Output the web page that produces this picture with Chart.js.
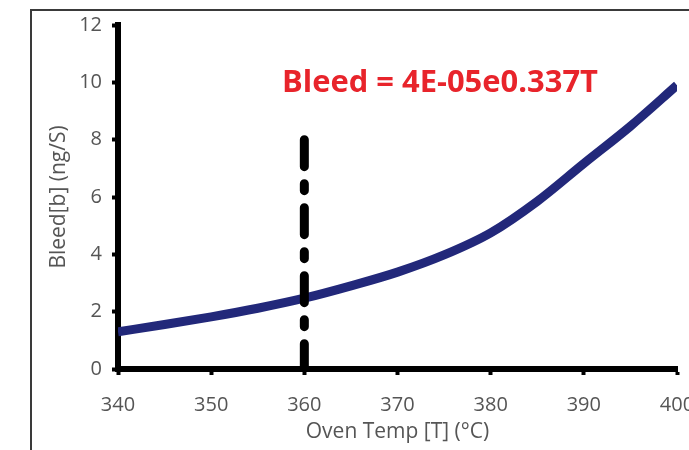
<!DOCTYPE html>
<html>
<head>
<meta charset="utf-8">
<script src="https://cdn.jsdelivr.net/npm/chart.js@4.4.1/dist/chart.umd.min.js"></script>
<style>
  html, body { margin: 0; padding: 0; background: #fff; }
  #wrap { position: relative; width: 689px; height: 450px; }
  #frame { position: absolute; left: 30px; top: 9px; width: 700px; height: 460px;
           border-left: 2px solid #3a3a3a; border-top: 2px solid #3a3a3a; }
  canvas { position: absolute; left: 0; top: 0; }
</style>
</head>
<body>
<div id="wrap">
  <div id="frame"></div>
  <canvas id="bleed_chart" width="689" height="450"></canvas>
</div>
<script>
// oven temperature (°C) and column bleed (ng/S)
const temps = [340, 345, 350, 355, 360, 365, 370, 375, 380, 385, 390, 395, 400];
const bleed = [1.3, 1.55, 1.82, 2.12, 2.47, 2.9, 3.38, 3.98, 4.75, 5.85, 7.17, 8.47, 9.9];

// vertical marker at 360 °C
const marker_x = [360, 360];
const marker_y = [8, 0];

const x_range = [340, 400];
const y_range = [0, 12];
const equation = 'Bleed = 4E-05e0.337T';
const equation_pos = [357.6, 9.66];

const grey = '#555555';

const equationLabel = {
    id: 'equationLabel',
    afterDatasetsDraw(chart){
        const ctx = chart.ctx;
        const xs = chart.scales.x;
        const ys = chart.scales.y;
        ctx.save();
        ctx.font = 'bold 31px "Open Sans"';
        ctx.fillStyle = '#e8242b';
        ctx.textAlign = 'left';
        ctx.textBaseline = 'alphabetic';
        ctx.fillText(equation, xs.getPixelForValue(equation_pos[0]), ys.getPixelForValue(equation_pos[1]), 316);
        ctx.restore();
    }
};

function initBleedChart(){
    const ctx = document.getElementById('bleed_chart').getContext('2d');
    const curve = temps.map((t, i) => ({x: t, y: bleed[i]}));
    const marker = marker_x.map((t, i) => ({x: t, y: marker_y[i]}));

    new Chart(ctx, {
        type: 'line',
        data: {
            datasets: [{
                label: 'marker',
                data: marker,
                borderColor: '#000',
                borderWidth: 9,
                borderDash: [27, 17, 7, 17],
                borderCapStyle: 'round',
                pointRadius: 0,
                tension: 0,
                order: 0
            }, {
                label: 'Bleed',
                data: curve,
                borderColor: '#22287a',
                borderWidth: 9,
                pointRadius: 0,
                cubicInterpolationMode: 'monotone',
                order: 1
            }]
        },
        options: {
            responsive: false,
            animation: false,
            layout: {
                padding: {left: 42, right: 12, top: 25, bottom: 1}
            },
            plugins: {
                legend: {display: false},
                tooltip: {enabled: false}
            },
            scales: {
                x: {
                    type: 'linear',
                    min: x_range[0],
                    max: x_range[1],
                    ticks: {
                        stepSize: 10,
                        color: grey,
                        padding: 18,
                        font: {family: '"Open Sans"', size: 20}
                    },
                    grid: {
                        drawOnChartArea: false,
                        tickLength: 6,
                        tickWidth: 4,
                        tickColor: '#000'
                    },
                    border: {color: '#000', width: 6},
                    title: {
                        display: true,
                        text: 'Oven Temp [T] (°C)',
                        color: grey,
                        font: {family: '"Open Sans"', size: 21}
                    },
                    afterFit(scale){
                        scale.height = 80;
                        scale.paddingLeft = 0;
                        scale.paddingRight = 0;
                    }
                },
                y: {
                    min: y_range[0],
                    max: y_range[1],
                    ticks: {
                        stepSize: 2,
                        color: grey,
                        padding: 10,
                        font: {family: '"Open Sans"', size: 20}
                    },
                    grid: {
                        drawOnChartArea: false,
                        tickLength: 6,
                        tickWidth: 4,
                        tickColor: '#000'
                    },
                    border: {color: '#000', width: 6},
                    title: {
                        display: true,
                        text: 'Bleed[b] (ng/S)',
                        color: grey,
                        font: {family: '"Open Sans"', size: 21}
                    },
                    afterFit(scale){
                        scale.width = 76;
                        scale.paddingTop = 0;
                        scale.paddingBottom = 0;
                    }
                }
            }
        },
        plugins: [equationLabel]
    });
}

initBleedChart();
</script>
</body>
</html>
